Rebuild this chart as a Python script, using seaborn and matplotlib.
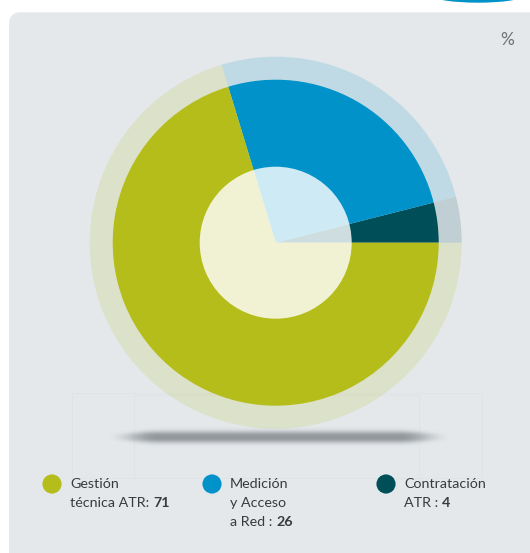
import numpy as np
import matplotlib
matplotlib.use("Agg")
import matplotlib.pyplot as plt
from matplotlib.patches import FancyBboxPatch, Circle, Ellipse, Rectangle
import seaborn as sns

# data
labels = [["Gestión", "técnica ATR:"], ["Medición", "y Acceso", "a Red :"], ["Contratación", "ATR :"]]
values = [71, 26, 4]
colors = ["#b5bd1a", "#0092c8", "#004f58"]

sns.set_theme(style="white")
plt.rcParams['font.family'] = ['Lato', 'DejaVu Sans']

W, H = 530, 553
cx, cy = 275.7, H - 242.7
bg = "#e4e8eb"
txt = "#3a3a3a"

fig = plt.figure(figsize=(W / 100, H / 100), dpi=100)
fig.patch.set_facecolor("white")
ax = fig.add_axes([0, 0, 1, 1])

# panel
ax.add_patch(FancyBboxPatch((9, -20), 560, H - 12.3 + 20, boxstyle="round,pad=0,rounding_size=12",
                            fc=bg, ec="none", zorder=0))
ax.add_patch(Ellipse((478, H + 5), 90, 14, color=colors[1], zorder=0))

# faint guide boxes
ax.add_patch(Rectangle((72, H - 478), 410, 85, fill=False, ec="#dfe3e6", lw=0.6, zorder=0.2))
ax.add_patch(Rectangle((134, H - 478), 285, 83, fill=False, ec="#dfe3e6", lw=0.6, zorder=0.2))

# shadow
nx, ny = 340, 40
xs = np.linspace(-1, 1, nx)
dy = np.linspace(-20, 20, ny)
ends = np.clip((1 - np.abs(xs)) / 0.3, 0, 1)
ends = ends * ends * (3 - 2 * ends)
hh = 2.5 * ends + 3.5
amp = 0.6 * ends
alpha = amp[None, :] * np.exp(-(np.abs(dy[:, None]) / hh[None, :]) ** 2.6)
img = np.zeros((ny, nx, 4))
img[..., 0] = 92 / 255
img[..., 1] = 98 / 255
img[..., 2] = 103 / 255
img[..., 3] = alpha
ax.imshow(img, extent=(106, 452, H - 437 - 20, H - 437 + 20), zorder=0.5, interpolation="bilinear")

# pie: outer pale ring + solid pie (counterclockwise from 0 deg: last category first)
ax.pie(values[::-1], colors=colors[::-1], radius=186, center=(cx, cy), startangle=0,
       counterclock=True, wedgeprops=dict(linewidth=0, alpha=0.16))
ax.pie(values[::-1], colors=colors[::-1], radius=163, center=(cx, cy), startangle=0,
       counterclock=True, wedgeprops=dict(linewidth=0))
ax.add_patch(Circle((cx, cy), 76, fc="white", alpha=0.81, ec="none", zorder=3))

# legend
leg_x = [52, 212, 386]
leg_y = [H - 484] * 3
sns.scatterplot(x=leg_x, y=leg_y, hue=[l[0] for l in labels], palette=colors, s=190,
                linewidth=0, legend=False, ax=ax, zorder=4)
fs = 10.3
for i, lines in enumerate(labels):
    x0 = leg_x[i] + 18
    for j, line in enumerate(lines):
        y = H - 484 - 18.8 * j
        if j == len(lines) - 1:
            t = ax.text(x0, y, line + " ", fontsize=fs, color=txt, va="center", ha="left")
            ax.annotate(str(values[i]), xy=(1, 0), xycoords=t, va="bottom", ha="left",
                        fontsize=fs, fontweight="bold", color=txt)
        else:
            ax.text(x0, y, line, fontsize=fs, color=txt, va="center", ha="left")

ax.text(507, H - 40, "%", fontsize=12.5, color="#707070", ha="center", va="center")

ax.set_xlim(0, W)
ax.set_ylim(0, H)
ax.set_aspect("equal")
ax.axis("off")
fig.savefig("out.png", dpi=100)
